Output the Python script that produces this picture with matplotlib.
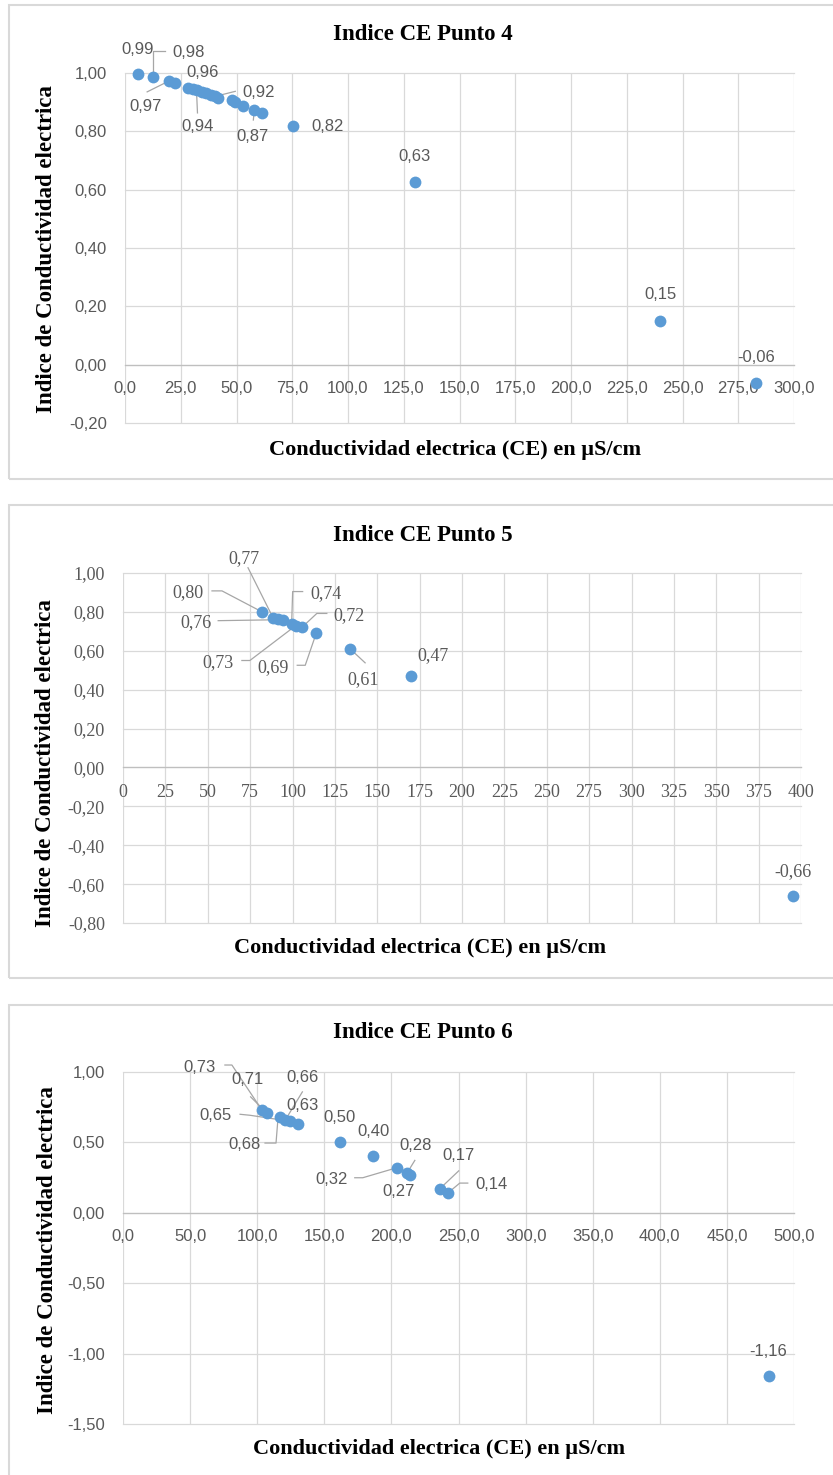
import numpy as np
import matplotlib
matplotlib.use('Agg')
import matplotlib.pyplot as plt
from matplotlib.patches import Rectangle
from matplotlib.lines import Line2D
from matplotlib.ticker import FixedLocator, FuncFormatter

W, H = 833, 1475

# ---- datos: CE (uS/cm) vs indice ----
ce_p4 = [5.8, 12.6, 19.8, 22.4, 28.3, 30.5, 32.5, 34.5, 36.5, 38.5, 40.5, 41.7,
         48.0, 49.3, 53.0, 58.0, 61.5, 75.4, 130.0, 240.0, 283.0]
ind_p4 = [0.995, 0.985, 0.973, 0.964, 0.950, 0.946, 0.942, 0.936, 0.931, 0.926, 0.920, 0.914,
          0.906, 0.900, 0.888, 0.873, 0.862, 0.817, 0.626, 0.150, -0.062]

ce_p5 = [82, 88.5, 91.5, 94.5, 99.5, 102, 105.5, 114, 134, 170, 395]
ind_p5 = [0.80, 0.77, 0.765, 0.76, 0.74, 0.73, 0.72, 0.69, 0.61, 0.47, -0.66]

ce_p6 = [103.5, 107, 117, 121, 124.5, 130.5, 161.5, 186.5, 204, 211.5, 214, 236, 242, 481]
ind_p6 = [0.73, 0.71, 0.68, 0.66, 0.65, 0.63, 0.50, 0.40, 0.32, 0.28, 0.27, 0.17, 0.14, -1.16]

xticks_p4 = [0, 25, 50, 75, 100, 125, 150, 175, 200, 225, 250, 275, 300]
yticks_p4 = [-0.2, 0.0, 0.2, 0.4, 0.6, 0.8, 1.0]
xticks_p5 = [0, 25, 50, 75, 100, 125, 150, 175, 200, 225, 250, 275, 300, 325, 350, 375, 400]
yticks_p5 = [-0.8, -0.6, -0.4, -0.2, 0.0, 0.2, 0.4, 0.6, 0.8, 1.0]
xticks_p6 = [0, 50, 100, 150, 200, 250, 300, 350, 400, 450, 500]
yticks_p6 = [-1.5, -1.0, -0.5, 0.0, 0.5, 1.0]

# etiquetas visibles: indice -> (dx, dy, guia) en pixeles de imagen
lab_p4 = {0: (0, -25, None), 1: (35, -25, [(0, -4), (0, -26), (12, -26)]),
          2: (-24, 26, [(-22, 11), (0, 0)]), 3: (28, -11, None),
          6: (0, 37, [(0, 23), (-1, 0)]), 10: (43, -4, [(0, 0), (20, -5)]),
          15: (-2, 26, [(-1, 10), (0, 0)]), 17: (34, 0, None),
          18: (0, -26, None), 19: (0, -26, None), 20: (0, -25, None)}
lab_p5 = {0: (-74, -19, [(-50, -21), (-40, -21), (0, 0)]),
          1: (-29, -59, [(-25, -50), (0, 0)]),
          3: (-87, 3, [(-65, 1), (0, 0)]),
          4: (34, -30, [(11, -32), (1, -32), (0, 0)]),
          5: (-78, 37, [(-54, 35), (-46, 35), (0, 0)]),
          6: (47, -12, [(25, -14), (15, -14), (0, 0)]),
          7: (-43, 34, [(-19, 32), (-11, 32), (0, 0)]),
          8: (13, 31, [(0, 0), (15, 14)]),
          9: (22, -20, None), 10: (0, -24, None)}
lab_p6 = {0: (-62, -43, [(-37, -45), (-30, -45), (0, 0)]),
          1: (-19, -33, [(-16, -16), (0, 0)]),
          2: (-36, 27, [(-15, 26), (-4, 26), (-2, 1)]),
          3: (17, -42, [(17, -28), (0, 0)]),
          4: (-75, -6, [(-50, -7), (-40, -6), (0, 0)]),
          5: (4, -19, None), 6: (0, -25, None), 7: (0, -25, None),
          8: (-65, 12, [(-42, 10), (-34, 10), (0, 0)]),
          9: (9, -28, [(8, -13), (0, 0)]),
          10: (-12, 17, None),
          11: (19, -33, [(19, -18), (0, 0)]),
          12: (44, -9, [(20, -10), (12, -10), (0, 0)]),
          13: (0, -25, None)}

fig = plt.figure(figsize=(W / 100, H / 100), dpi=100)

GRID = '#d9d9d9'
TXT = '#595959'
BLUE = '#5b9bd5'


def comma(v, d):
    return f"{v:.{d}f}".replace('.', ',')


def panel(box, axpx, title, ty, xl, yl, xs, ys, xlim, ylim, xt, yt, xdec, ydec, labels, fam, fs):
    # marco del grafico
    fig.patches.append(Rectangle((box[0] / W, 1 - box[3] / H), (box[2] - box[0]) / W,
                                 (box[3] - box[1]) / H, transform=fig.transFigure,
                                 fill=False, ec=GRID, lw=1.5))
    l, t, r, b = axpx
    ax = fig.add_axes([l / W, 1 - b / H, (r - l) / W, (b - t) / H])
    ax.set_xlim(xlim)
    ax.set_ylim(ylim)
    ax.xaxis.set_major_locator(FixedLocator(xt))
    ax.yaxis.set_major_locator(FixedLocator(yt))
    ax.xaxis.set_major_formatter(FuncFormatter(lambda v, p: comma(v, xdec)))
    ax.yaxis.set_major_formatter(FuncFormatter(lambda v, p: comma(v, ydec)))
    ax.grid(True, color=GRID, lw=0.9)
    ax.set_axisbelow(True)
    for gl in ax.get_xgridlines() + ax.get_ygridlines():
        gl.set_clip_on(False)
    for s in ['top', 'right', 'left']:
        ax.spines[s].set_visible(False)
    ax.spines['bottom'].set_position(('data', 0))
    ax.spines['bottom'].set_color('#bfbfbf')
    ax.spines['bottom'].set_linewidth(0.9)
    ax.tick_params(axis='both', length=0, labelcolor=TXT, labelsize=fs)
    ax.tick_params(axis='x', pad=12)
    ax.tick_params(axis='y', pad=13)
    for lab in ax.get_xticklabels() + ax.get_yticklabels():
        lab.set_family(fam)
    ax.plot(xs, ys, 'o', ms=8.5, color=BLUE, mec='none', zorder=4, clip_on=False)

    for i, (dx, dy, guide) in labels.items():
        ax.annotate(comma(ys[i], 2), xy=(xs[i], ys[i]), xytext=(dx, -dy),
                    textcoords='offset pixels', ha='center', va='center',
                    fontsize=fs, color=TXT, family=fam, zorder=5)
        if guide:
            p = ax.transData.transform((xs[i], ys[i]))
            pts = np.array([(p[0] + gx, p[1] - gy) for gx, gy in guide])
            pts = ax.transAxes.inverted().transform(pts)
            ax.add_line(Line2D(pts[:, 0], pts[:, 1], transform=ax.transAxes,
                               color='#a6a6a6', lw=0.9, zorder=3, clip_on=False))

    fig.text(423 / W, 1 - ty / H, title, ha='center', va='center', family='Liberation Serif',
             weight='bold', fontsize=16.5, color='black')
    fig.text(xl[0] / W, 1 - xl[1] / H, 'Conductividad electrica (CE) en µS/cm', ha='center',
             va='center', family='Liberation Serif', weight='bold', fontsize=16, color='black')
    fig.text(yl[0] / W, 1 - yl[1] / H, 'Indice de Conductividad electrica', rotation=90,
             ha='center', va='center', family='Liberation Serif', weight='bold', fontsize=16.5,
             color='black')
    return ax


panel((9, 5, 842, 479), (125, 73, 794, 423), 'Indice CE Punto 4', 35, (455, 450), (47, 249),
      ce_p4, ind_p4, (0, 300), (-0.2, 1.0), xticks_p4, yticks_p4, 1, 2, lab_p4,
      'Liberation Sans', 12)
panel((9, 505, 842, 978), (123, 573, 801, 923), 'Indice CE Punto 5', 535, (420, 948), (46, 763),
      ce_p5, ind_p5, (0, 400), (-0.8, 1.0), xticks_p5, yticks_p5, 0, 2, lab_p5,
      'Liberation Serif', 13)
panel((9, 1005, 842, 1490), (123, 1072, 794, 1424), 'Indice CE Punto 6', 1033, (439, 1449), (48, 1250),
      ce_p6, ind_p6, (0, 500), (-1.5, 1.0), xticks_p6, yticks_p6, 1, 2, lab_p6,
      'Liberation Sans', 12)

fig.savefig('out.png', dpi=100, facecolor='white')
